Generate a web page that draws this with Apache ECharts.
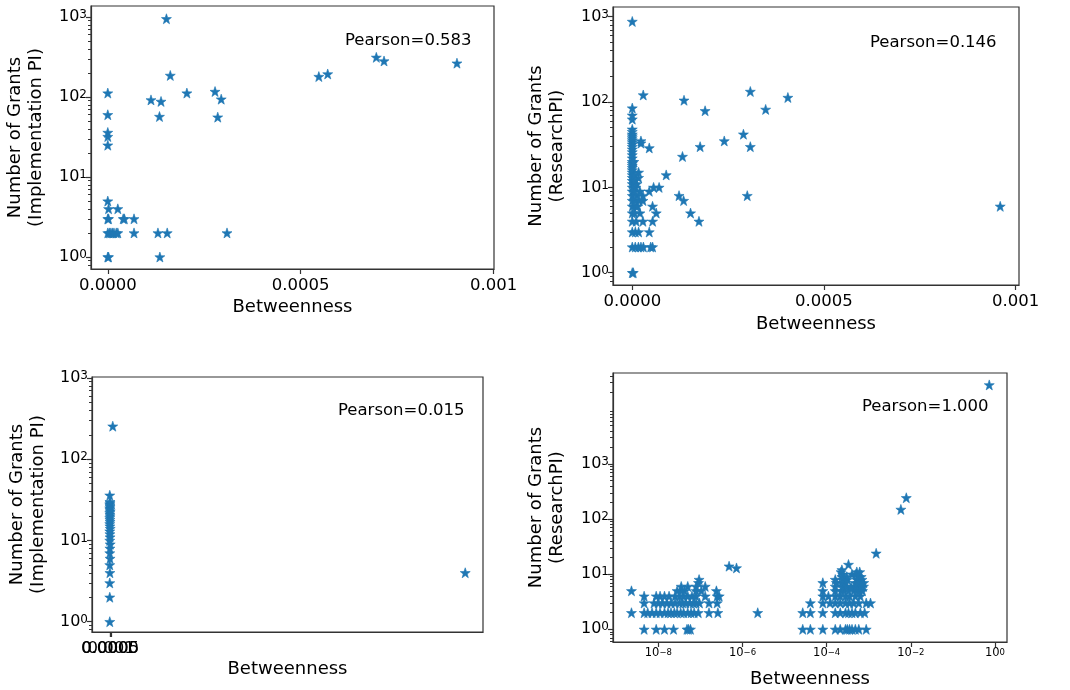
<!DOCTYPE html>
<html>
<head>
<meta charset="utf-8">
<script src="https://cdn.jsdelivr.net/npm/echarts@6/dist/echarts.min.js"></script>
<style>html,body{margin:0;background:#fff}#chart{width:1070px;height:690px}</style>
</head>
<body>
<div id="chart"></div>
<script>
// betweenness vs number of grants, [x, y] pairs
const implLinear = [
  [0.000152,950],[0.000696,313],[0.000716,282],[0.000905,265],[0.000547,180],[0.00057,194],
  [0.000162,186],[0.000205,112],[0.000278,117],[0.000294,94],[0.000112,92],[0.000138,88],
  [0.000134,57],[0.000285,56],[0,112],[0,60],[0,36],[0,32],[0,25],[0,5],
  [0.000002,4],[0.000026,4],[0,3],[0.000043,3],[0.000040,3],[0.000068,3],[0.000002,3],
  [0,2],[0.000004,2],[0.000008,2],[0.000012,2],[0.000016,2],[0.000022,2],[0.000026,2],
  [0.000068,2],[0.00013,2],[0.000154,2],[0.000309,2],[0,1],[0.000002,1],[0.000135,1]
];
const researchLinear = [
  [0,880],[0,85],[0,70],[0,63],[0,48],[0,45],[0,42],[0,40],[0,38],[0,36],[0,34],[0,32],[0,30],
  [0,28],[0,26],[0,24],[0,22],[0,20],[0,19],[0,18],[0,17],[0,16],[0,15],[0,14],[0,13],[0,12],
  [0,11],[0,10],[0,9],[0,8],[0,7],[0,6],[0,5],[0,4],[0,3],[0,2],[0,1],
  [0.0000026,1],[0.0000078,2],[0.000016,2],[0.0000226,2],[0.000029,2],[0.000048,2],[0.000053,2],
  [0.0000165,3],[0.0000443,3],[0.000008,3],[0.0000278,4],[0.000053,4],[0.00001,4],[0.0000625,5],
  [0.000006,5],[0.00002,5],[0.0000529,6],[0.00001,6],[0.000014,6],[0.0000278,7],[0.000008,7],
  [0.000018,7],[0.0000278,8],[0.000012,8],[0.0000443,9],[0.000005,9],[0.00002,9],[0.0000556,10],
  [0.000009,10],[0.00007,10],[0.000012,11],[0.000006,12],[0.0000165,13],[0.000006,14],[0.0000165,15],
  [0.000004,20],[0.0000226,33],[0.0000226,35],[0.0000443,29],[0.0000286,121],
  [0.000135,105],[0.00019,79],[0.000308,133],[0.000406,113],[0.000348,82],[0.00029,42],
  [0.00024,35],[0.000308,30],[0.000177,30],[0.000131,23],[0.0000885,14],[0.0003,8],
  [0.000122,8],[0.000134,7],[0.000152,5],[0.000174,4],[0.00096,6]
];
const implWide = [
  [0.0021,255],[0.25,4],[0,1],[0,2],[0,3],[0.0001,4],[0,5],[0.0002,6],[0,7],[0.0001,8],
  [0.0003,9],[0,10],[0.0002,11],[0.0001,12],[0,13],[0.0003,14],[0.0001,15],[0,16],[0.0002,17],
  [0.0001,18],[0,19],[0.0002,20],[0.0001,21],[0,22],[0.0003,23],[0.0001,24],[0,25],[0.0002,26],
  [0.0001,27],[0,28],[0.0002,29],[0.0001,30],[0,36]
];
const researchLog = [
  [4.6e-9,1],[8.9e-9,1],[1.4e-8,1],[2.3e-8,1],[4.8e-8,1],[5.2e-8,1],[5.8e-8,1],
  [2.3e-9,2],[4.6e-9,2],[5.6e-9,2],[7.1e-9,2],[8.9e-9,2],[1.1e-8,2],[1.4e-8,2],[1.7e-8,2],
  [2e-8,2],[2.4e-8,2],[2.8e-8,2],[3.4e-8,2],[4e-8,2],[5e-8,2],[6e-8,2],[7.1e-8,2],[8.9e-8,2],
  [1.6e-7,2],[2.6e-7,2],[2.3e-6,2],
  [4.6e-9,3],[7.9e-9,3],[1e-8,3],[1.26e-8,3],[1.6e-8,3],[2e-8,3],[2.5e-8,3],[3.2e-8,3],
  [3.8e-8,3],[4.5e-8,3],[5.6e-8,3],[6.8e-8,3],[7.9e-8,3],[9.5e-8,3],[1.6e-7,3],[2.5e-7,3],
  [4.6e-9,4],[8.9e-9,4],[1.1e-8,4],[1.4e-8,4],[1.8e-8,4],[2.5e-8,4],[3.2e-8,4],[4e-8,4],
  [5e-8,4],[6.3e-8,4],[7.9e-8,4],[1.3e-7,4],[2.5e-7,4],[2.8e-7,4],
  [2.3e-9,5],[2.8e-8,5],[3.5e-8,5],[4.2e-8,5],[7.9e-8,5],[1.05e-7,5],[2.4e-7,5],
  [3.5e-8,6],[5e-8,6],[7.9e-8,6],[1.3e-7,6],[9e-8,7],[9.3e-8,8],[4.8e-7,14],[7.2e-7,13],
  [2.7e-5,1],[4.1e-5,1],[8.1e-5,1],[1.6e-4,1],[2.1e-4,1],[2.8e-4,1],[3.1e-4,1],[3.5e-4,1],
  [4e-4,1],[4.8e-4,1],[5.8e-4,1],[8.7e-4,1],
  [2.7e-5,2],[4.1e-5,2],[8.1e-5,2],[1.6e-4,2],[2.1e-4,2],[2.8e-4,2],[3.3e-4,2],[4e-4,2],
  [4.8e-4,2],[6.3e-4,2],[8e-4,2],
  [4.1e-5,3],[8.1e-5,3],[1.2e-4,3],[1.6e-4,3],[2.1e-4,3],[2.8e-4,3],[3.5e-4,3],[4.4e-4,3],
  [5.8e-4,3],[8.7e-4,3],[1.1e-3,3],
  [8.1e-5,4],[1.1e-4,4],[1.6e-4,4],[2.1e-4,4],[2.8e-4,4],[3.5e-4,4],[4.8e-4,4],[6.3e-4,4],
  [8.1e-5,5],[1.6e-4,5],[2.2e-4,5],[2.6e-4,5],[3.3e-4,5],[4.4e-4,5],[5.2e-4,5],[6e-4,5],[7.1e-4,5],
  [1.6e-4,6],[2.4e-4,6],[3e-4,6],[3.8e-4,6],[5e-4,6],[5.8e-4,6],[6.6e-4,6],[7.5e-4,6],
  [8.1e-5,7],[1.7e-4,7],[2.3e-4,7],[2.8e-4,7],[4.8e-4,7],[5.5e-4,7],[6.3e-4,7],[7.6e-4,7],
  [1.6e-4,8],[2.4e-4,8],[3.1e-4,8],[5.2e-4,8],[6.9e-4,8],[2.3e-4,9],[3e-4,9],[5.8e-4,9],[6.6e-4,9],
  [2.4e-4,10],[4e-4,10],[5e-4,10],[2.2e-4,11],[5.2e-4,11],[6.1e-4,11],[2.3e-4,12],[3.3e-4,15],
  [1.5e-3,24],[5.8e-3,150],[7.8e-3,244],[0.73,27300]
];

const pearsonText = ['Pearson=0.583', 'Pearson=0.146', 'Pearson=0.015', 'Pearson=1.000'];
const yTitles = ['Number of Grants\n(Implementation PI)', 'Number of Grants\n(ResearchPI)',
                 'Number of Grants\n(Implementation PI)', 'Number of Grants\n(ResearchPI)'];
const xTitle = 'Betweenness';
const linTicks = [0, 0.0005, 0.001];
const linTickLabels = ['0.0000', '0.0005', '0.001'];
const logXTicks = [-8, -6, -4, -2, 0];
const logYTicks = [0, 1, 2, 3];

const FONT = 'DejaVu Sans';
const BLUE = '#1f77b4';
const INK = '#333';
const STAR = 'path://M0,-10L2.35,-3.24L9.51,-3.09L3.8,1.24L5.88,8.09L0,4L-5.88,8.09L-3.8,1.24L-9.51,-3.09L-2.35,-3.24Z';

// layout of the 2x2 grid
const panels = [
  {data: implLinear, grid: {left: 91, top: 6, width: 403, height: 263},
   xMin: -0.0000435, xMax: 0.001001, xLog: false, yMin: -0.15, yMax: 3.1375, yGap: 44, xGap: 29, tx: 345, ty: 32},
  {data: researchLinear, grid: {left: 613, top: 7, width: 406, height: 278},
   xMin: -0.0000503, xMax: 0.001009, xLog: false, yMin: -0.144, yMax: 3.114, yGap: 45, xGap: 30, tx: 870, ty: 34},
  {data: implWide, grid: {left: 92, top: 377, width: 391, height: 255}, squeezed: true,
   xMin: -0.0125, xMax: 0.2625, xLog: false, yMin: -0.127, yMax: 3.012, yGap: 43, xGap: 28, tx: 338, ty: 402},
  {data: researchLog, grid: {left: 613, top: 373, width: 394, height: 269},
   xMin: -9.077, xMax: 0.285, xLog: true, yMin: -0.23, yMax: 4.652, yGap: 45, xGap: 28, tx: 862, ty: 398}
];

function minorLogTicks(lo, hi) {
  const out = [];
  for (let d = Math.floor(lo); d <= Math.ceil(hi); d++) {
    for (let k = 2; k <= 9; k++) {
      const v = d + Math.log10(k);
      if (v >= lo && v <= hi) out.push(v);
    }
  }
  return out;
}
function sup(v) {
  const e = Math.round(v);
  return '{b|10}{s|' + (e < 0 ? '\u2212' + (-e) : e) + '}';
}

const tickLine = {color: INK, width: 1.2};
const grids = [], xAxes = [], yAxes = [], series = [], texts = [];

panels.forEach((p, i) => {
  grids.push(Object.assign({show: true, borderColor: INK, borderWidth: 1.2, containLabel: false}, p.grid));

  const x = {
    type: 'value', gridIndex: i, position: 'bottom', min: p.xMin, max: p.xMax,
    name: xTitle, nameLocation: 'middle', nameGap: p.xGap,
    nameTextStyle: {fontFamily: FONT, fontSize: 18, color: '#000'},
    axisLine: {show: true, onZero: false, lineStyle: tickLine},
    splitLine: {show: false},
    axisTick: {show: true, length: 5, lineStyle: tickLine},
    axisLabel: {fontFamily: FONT, color: '#000', hideOverlap: false}
  };
  if (p.xLog) {
    x.axisTick.customValues = logXTicks;
    x.axisLabel.customValues = logXTicks;
    x.axisLabel.formatter = sup;
    x.axisLabel.margin = 6;
    x.axisLabel.rich = {
      b: {fontFamily: FONT, fontSize: 11.5, lineHeight: 11.5, verticalAlign: 'bottom'},
      s: {fontFamily: FONT, fontSize: 8.5, lineHeight: 8.5, verticalAlign: 'top', padding: [0, 0, 6, 0]}
    };
  } else {
    x.axisTick.customValues = linTicks;
    x.axisLabel.customValues = p.squeezed ? [linTicks[0]] : linTicks;
    x.axisLabel.fontSize = 16.5;
    x.axisLabel.margin = 8;
    x.axisLabel.formatter = v => linTickLabels[linTicks.indexOf(v)];
  }
  x.xIndex = xAxes.length;
  xAxes.push(x);
  // the squeezed panel draws its stacked tick labels on top of each other
  if (p.squeezed) {
    linTicks.slice(1).forEach(t => {
      xAxes.push({
        type: 'value', gridIndex: i, position: 'bottom', min: p.xMin, max: p.xMax,
        axisLine: {show: false, onZero: false}, axisTick: {show: false}, splitLine: {show: false},
        axisLabel: {customValues: [t], fontFamily: FONT, fontSize: 16.5, margin: 8, color: '#000',
                    formatter: v => linTickLabels[linTicks.indexOf(v)]}
      });
    });
  }

  yAxes.push({
    type: 'value', gridIndex: i, position: 'left', min: p.yMin, max: p.yMax,
    name: yTitles[i], nameLocation: 'middle', nameGap: p.yGap,
    nameTextStyle: {fontFamily: FONT, fontSize: 18, lineHeight: 21, color: '#000'},
    axisLine: {show: true, onZero: false, lineStyle: tickLine},
    splitLine: {show: false},
    axisTick: {show: true, length: 5, lineStyle: tickLine, customValues: logYTicks},
    axisLabel: {
      customValues: logYTicks, margin: 4, color: '#000', formatter: sup,
      rich: {
        b: {fontFamily: FONT, fontSize: 16, lineHeight: 16, verticalAlign: 'bottom'},
        s: {fontFamily: FONT, fontSize: 12, lineHeight: 12, verticalAlign: 'top', padding: [0, 0, 8, 0]}
      }
    }
  });
  // minor ticks of the log scale
  yAxes.push({
    type: 'value', gridIndex: i, position: 'left', min: p.yMin, max: p.yMax,
    axisLine: {show: false, onZero: false}, splitLine: {show: false}, axisLabel: {show: false},
    axisTick: {show: true, length: 3, lineStyle: {color: INK, width: 1}, customValues: minorLogTicks(p.yMin, p.yMax)}
  });

  series.push({
    type: 'scatter', xAxisIndex: x.xIndex, yAxisIndex: i * 2,
    symbol: STAR, symbolSize: 10,
    itemStyle: {color: BLUE, borderColor: BLUE, borderWidth: 0.6, opacity: 1},
    data: p.data.map(d => [p.xLog ? Math.log10(d[0]) : d[0], Math.log10(d[1])])
  });

  texts.push({
    type: 'text', left: p.tx, top: p.ty,
    style: {text: pearsonText[i], font: '16.5px "DejaVu Sans"', fill: '#000'}
  });
});
xAxes.forEach(a => delete a.xIndex);

const chart = echarts.init(document.getElementById('chart'));
chart.setOption({
  animation: false,
  backgroundColor: '#fff',
  grid: grids,
  xAxis: xAxes,
  yAxis: yAxes,
  series: series,
  graphic: texts
});
</script>
</body>
</html>
